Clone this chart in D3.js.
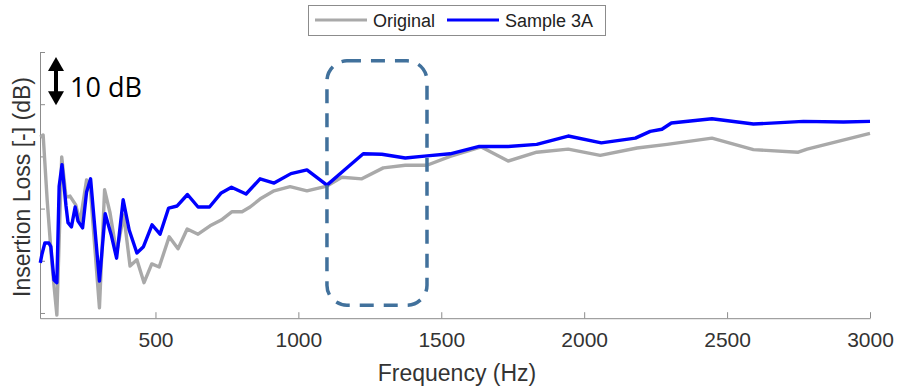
<!DOCTYPE html>
<html>
<head>
<meta charset="utf-8">
<script src="https://cdn.jsdelivr.net/npm/d3@7"></script>
<style>
  body { margin: 0; background: #fff; }
  svg { display: block; font-family: "Liberation Sans", Arial, sans-serif; }
</style>
</head>
<body>
<svg id="chart" width="897" height="390"></svg>
<script>
// Original (gray) series
const grayHz = [97,107,121,138,155,172,187,201,221,236,259,271,304,322,341,364,389,411,435,460,
  487,513,548,579,611,649,691,730,768,803,831,870,915,971,1030,1100,1152,1222,1297,1374,
  1450,1531,1640,1734,1834,1944,2056,2185,2290,2447,2592,2749,2780,3000];
const grayDb = [33.7,34.1,21.7,9.2,-0.4,29.9,22.2,22.4,20.7,17.4,25.5,24.5,1.0,23.6,19.2,11.5,18.8,9.0,10.2,5.8,
  9.4,8.8,14.6,12.3,16.1,15.1,16.7,17.8,19.4,19.4,20.3,22.0,23.4,24.2,23.4,24.3,26.0,25.7,27.8,28.3,
  28.3,30.0,31.8,29.1,30.8,31.4,30.2,31.6,32.3,33.5,31.3,30.8,31.4,34.4];

// Sample 3A (blue) series
const blueHz = [97,103,113,127,134,145,155,163,173,187,194,206,219,229,245,259,273,304,324,345,
  364,387,408,435,458,488,516,546,576,612,649,689,730,766,817,866,915,974,1030,1100,
  1157,1227,1292,1374,1450,1531,1633,1734,1834,1944,2060,2179,2231,2272,2305,2447,2592,2767,2907,3000];
const blueDb = [9.6,11.3,13.4,13.4,12.7,6.3,5.8,24.3,28.4,20.5,17.3,16.5,20.3,17.6,16.3,23.2,25.7,6.1,19.0,15.0,
  10.5,21.7,15.9,11.5,12.7,16.9,15.1,20.1,20.5,22.7,20.3,20.3,23.0,24.1,22.8,25.7,24.9,26.7,27.4,24.5,
  27.2,30.5,30.4,29.7,30.1,30.5,31.9,31.9,32.3,33.9,32.6,33.5,34.8,35.2,36.4,37.2,36.2,36.7,36.6,36.7];

const xTicks = [500, 1000, 1500, 2000, 2500, 3000];
const yTicks = [0, 10, 20, 30, 40, 50];
const highlightHz = [1100, 1450];
const highlightDb = [1.5, 48.3];
const seriesNames = ['Original', 'Sample 3A'];
const seriesColors = ['#a9a9a9', '#0000ff'];

const svg = d3.select('#chart');

const x = d3.scaleLinear().domain([96, 3000]).range([40, 870]);
const y = d3.scaleLinear().domain([-1, 50]).range([318.2, 52]);

// axes
const axisCol = '#8c8c8c';
const gx = svg.append('g').attr('transform', `translate(0,${y(-1)})`)
  .call(d3.axisBottom(x).tickValues(xTicks).tickFormat(d3.format('d'))
    .tickSize(-6).tickSizeOuter(0).tickPadding(14));
gx.selectAll('path,line').attr('stroke', axisCol);
gx.selectAll('text').attr('font-size', 21).attr('fill', '#333')
  .attr('font-family', '"Liberation Sans", Arial, sans-serif');

const gy = svg.append('g').attr('transform', `translate(${x(96)},0)`)
  .call(d3.axisLeft(y).tickValues(yTicks).tickSize(-5).tickSizeOuter(0).tickFormat(''));
gy.selectAll('path,line').attr('stroke', axisCol);

// lines
const line = d3.line().x(d => x(d[0])).y(d => y(d[1]));
const series = [
  { name: seriesNames[0], pts: d3.zip(grayHz, grayDb), col: seriesColors[0] },
  { name: seriesNames[1], pts: d3.zip(blueHz, blueDb), col: seriesColors[1] }
];
svg.selectAll('path.series').data(series).join('path')
  .attr('class', 'series')
  .attr('d', d => line(d.pts))
  .attr('fill', 'none')
  .attr('stroke', d => d.col)
  .attr('stroke-width', 3.4)
  .attr('stroke-linejoin', 'round');

// dashed highlight box
svg.append('rect')
  .attr('x', x(highlightHz[0])).attr('y', y(highlightDb[1]))
  .attr('width', x(highlightHz[1]) - x(highlightHz[0]))
  .attr('height', y(highlightDb[0]) - y(highlightDb[1]))
  .attr('rx', 20).attr('ry', 20)
  .attr('fill', 'none')
  .attr('stroke', '#41719c')
  .attr('stroke-width', 3.5)
  .attr('stroke-dasharray', '14,10');

// 10 dB arrow
const ax = 56, aTop = y(50) + 5, aBot = y(40) + 1;
svg.append('line').attr('x1', ax).attr('x2', ax).attr('y1', aTop + 8).attr('y2', aBot - 8)
  .attr('stroke', '#000').attr('stroke-width', 4);
svg.append('path').attr('d', `M${ax},${aTop} L${ax - 8},${aTop + 14} L${ax + 8},${aTop + 14} Z`).attr('fill', '#000');
svg.append('path').attr('d', `M${ax},${aBot} L${ax - 8},${aBot - 14} L${ax + 8},${aBot - 14} Z`).attr('fill', '#000');
svg.append('text').attr('x', 70).attr('y', 97)
  .attr('font-family', '"Open Sans", sans-serif').attr('font-size', 27).attr('fill', '#000')
  .text('10 dB');

// axis titles
svg.append('text').attr('x', 457).attr('y', 381).attr('text-anchor', 'middle')
  .attr('font-size', 23).attr('fill', '#333').text('Frequency (Hz)');
svg.append('text').attr('transform', 'translate(30,187) rotate(-90)').attr('text-anchor', 'middle')
  .attr('font-size', 23).attr('fill', '#333').text('Insertion Loss [-] (dB)');

// legend
const lg = svg.append('g');
lg.append('rect').attr('x', 308.5).attr('y', 5.5).attr('width', 297).attr('height', 30)
  .attr('fill', '#fff').attr('stroke', '#8c8c8c');
const legX = [315, 447];
series.forEach((s, i) => {
  lg.append('line').attr('x1', legX[i]).attr('x2', legX[i] + 52).attr('y1', 20).attr('y2', 20)
    .attr('stroke', s.col).attr('stroke-width', 3.2);
  lg.append('text').attr('x', legX[i] + 58).attr('y', 27).attr('font-size', 18).attr('fill', '#222')
    .text(s.name);
});
</script>
</body>
</html>
